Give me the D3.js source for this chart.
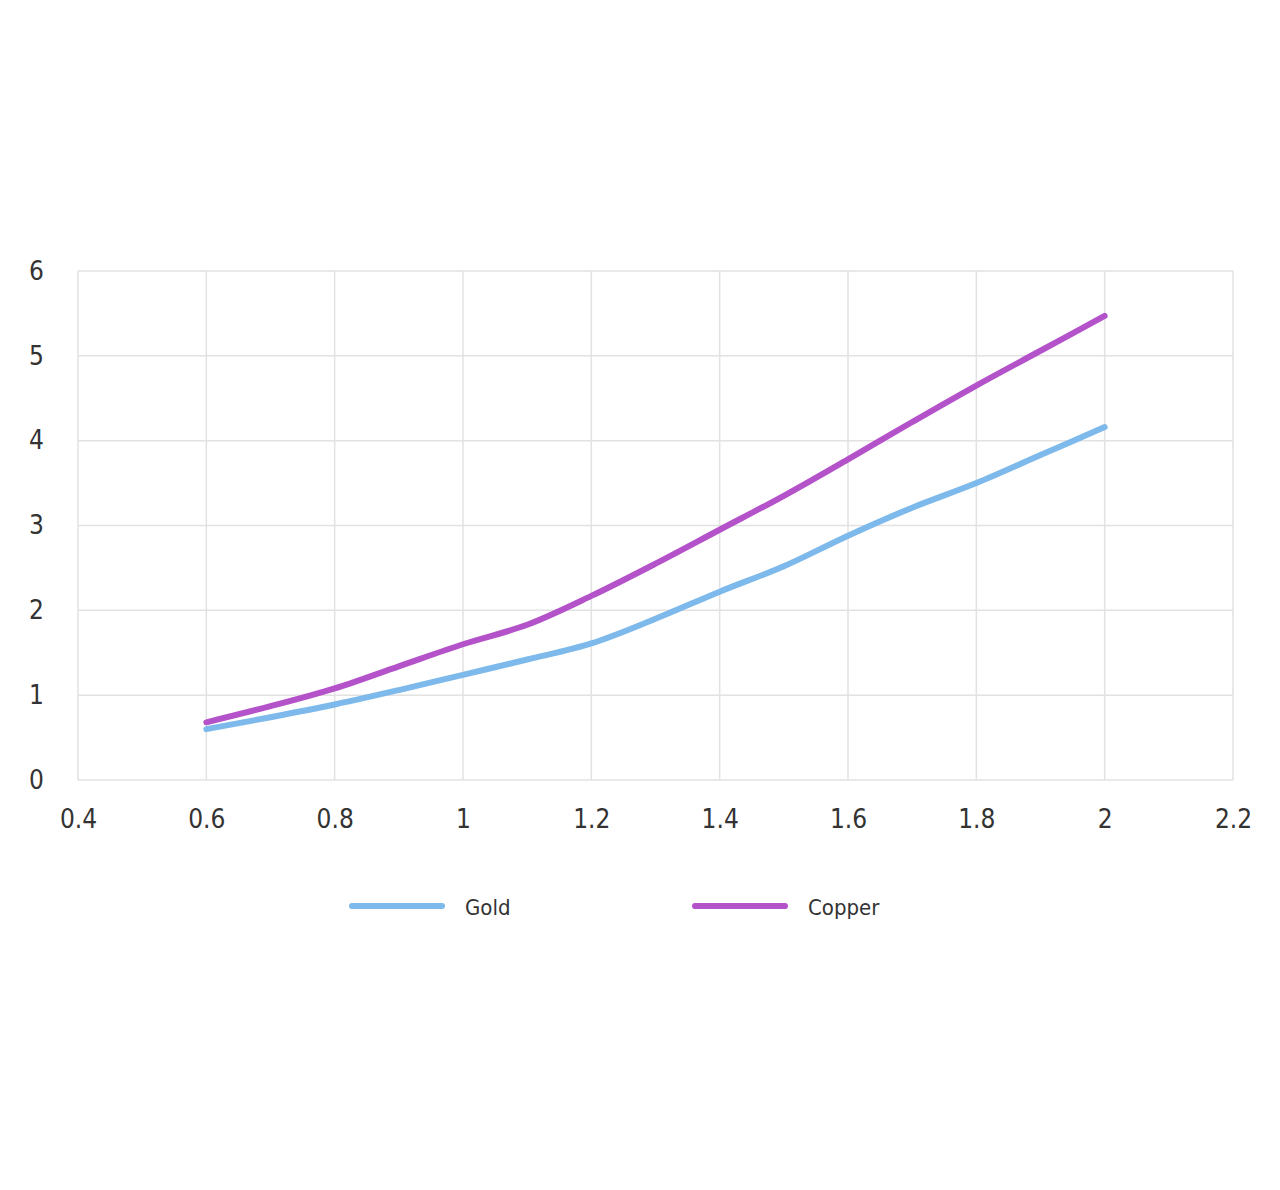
<!DOCTYPE html>
<html>
<head>
<meta charset="utf-8">
<script src="https://cdn.jsdelivr.net/npm/d3@7"></script>
<style>
  body { margin: 0; background: #fff; }
  svg text { font-family: "DejaVu Sans Condensed", "DejaVu Sans", sans-serif; fill: #333; }
</style>
</head>
<body>
<svg id="svg" width="1280" height="1190"></svg>
<script>
// data
var xvals  = [0.6, 0.7, 0.8, 0.9, 1.0, 1.1, 1.2, 1.3, 1.4, 1.5, 1.6, 1.7, 1.8, 1.9, 2.0];
var gold   = [0.60, 0.74, 0.89, 1.06, 1.24, 1.42, 1.61, 1.90, 2.22, 2.52, 2.88, 3.21, 3.50, 3.83, 4.16];
var copper = [0.68, 0.87, 1.08, 1.34, 1.60, 1.83, 2.17, 2.55, 2.95, 3.35, 3.78, 4.22, 4.65, 5.06, 5.47];
var xticks = [0.4, 0.6, 0.8, 1, 1.2, 1.4, 1.6, 1.8, 2, 2.2];
var yticks = [0, 1, 2, 3, 4, 5, 6];
var seriesNames = ["Gold", "Copper"];
var seriesColors = ["#7db9ea", "#b453c9"];

var margin = {top: 271, left: 78};
var gwidth = 1155, gheight = 509;

var svg = d3.select("#svg");
var g = svg.append("g").attr("transform", "translate(" + margin.left + "," + margin.top + ")");

var x = d3.scaleLinear().domain([0.4, 2.2]).range([0, gwidth]);
var y = d3.scaleLinear().domain([0, 6]).range([gheight, 0]);

// grid
g.selectAll(".vgrid").data(xticks).enter().append("line")
    .attr("x1", function(d){ return x(d); })
    .attr("x2", function(d){ return x(d); })
    .attr("y1", 0).attr("y2", gheight)
    .attr("stroke", "#e2e2e2").attr("stroke-width", 1.5);
g.selectAll(".hgrid").data(yticks).enter().append("line")
    .attr("y1", function(d){ return y(d); })
    .attr("y2", function(d){ return y(d); })
    .attr("x1", 0).attr("x2", gwidth)
    .attr("stroke", "#e2e2e2").attr("stroke-width", 1.5);

// axes (labels only)
var xAxis = d3.axisBottom(x).tickValues(xticks).tickSize(0).tickPadding(30)
    .tickFormat(function(d){ return String(+d.toFixed(1)); });
var yAxis = d3.axisLeft(y).tickValues(yticks).tickSize(0).tickPadding(34)
    .tickFormat(d3.format("d"));

g.append("g").attr("transform", "translate(0," + gheight + ")").call(xAxis)
    .call(function(s){ s.select(".domain").remove(); })
    .selectAll("text").attr("font-size", 26).attr("fill", "#333");
g.append("g").call(yAxis)
    .call(function(s){ s.select(".domain").remove(); })
    .selectAll("text").attr("font-size", 26).attr("fill", "#333");

// lines
var line = d3.line()
    .x(function(d){ return x(d[0]); })
    .y(function(d){ return y(d[1]); })
    .curve(d3.curveCatmullRom.alpha(0.5));

[gold, copper].forEach(function(vals, i){
    g.append("path")
        .datum(xvals.map(function(v, j){ return [v, vals[j]]; }))
        .attr("fill", "none")
        .attr("stroke", seriesColors[i])
        .attr("stroke-width", 6)
        .attr("stroke-linecap", "round")
        .attr("stroke-linejoin", "round")
        .attr("d", line);
});

// legend
var legendX = [352, 695];
seriesNames.forEach(function(name, i){
    svg.append("line")
        .attr("x1", legendX[i]).attr("x2", legendX[i] + 90)
        .attr("y1", 906).attr("y2", 906)
        .attr("stroke", seriesColors[i]).attr("stroke-width", 6)
        .attr("stroke-linecap", "round");
    svg.append("text")
        .attr("x", legendX[i] + 113).attr("y", 915)
        .attr("font-size", 22)
        .text(name);
});
</script>
</body>
</html>
